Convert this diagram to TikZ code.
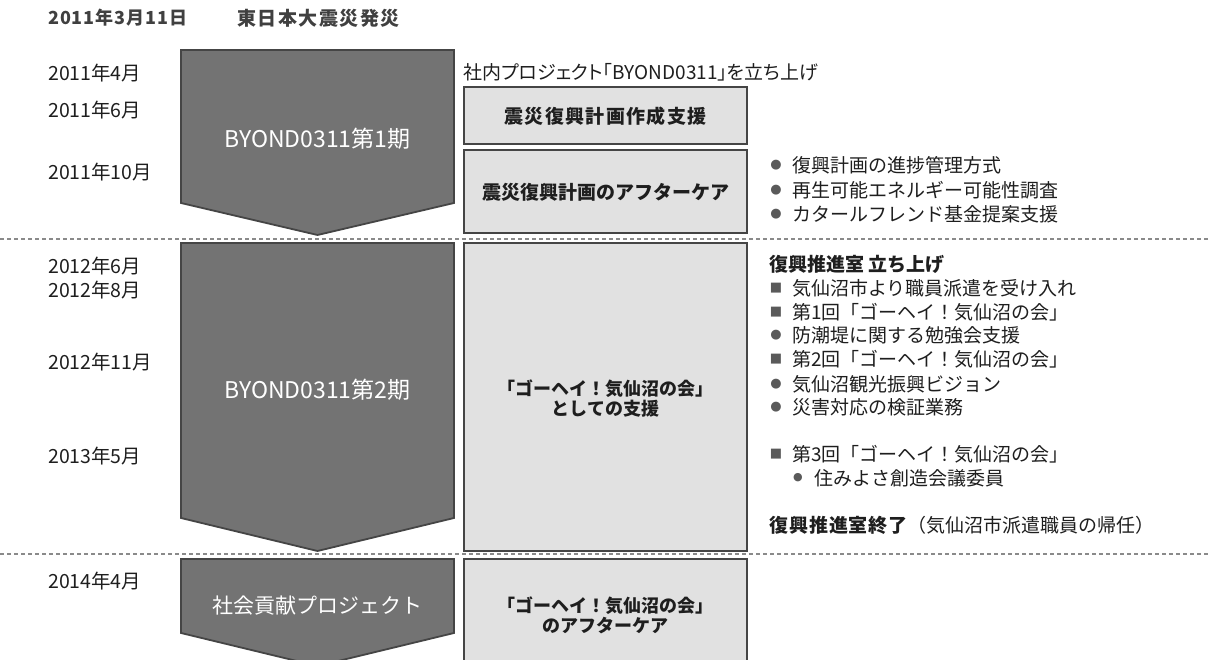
\documentclass[tikz,border=0pt]{standalone}
\usepackage{fontspec}
\setmainfont{Noto Sans CJK JP}
\newfontfamily\symfont{DejaVu Sans}
\definecolor{arrowfill}{HTML}{737373}
\definecolor{edgegray}{HTML}{454545}
\definecolor{boxfill}{HTML}{E1E1E1}
\definecolor{dashgray}{HTML}{8A8A8A}
\definecolor{txt}{HTML}{1E1E1E}
\definecolor{headtxt}{HTML}{404040}
\definecolor{markgray}{HTML}{5A5A5A}
\newcommand{\fs}[1]{\fontsize{#1}{#1}\selectfont}
\newcommand{\spaced}[1]{\addfontfeature{LetterSpace=#1}}
\newcommand{\prop}{\addfontfeature{RawFeature=+palt}}
\tikzset{
  phasearrow/.style={fill=arrowfill,draw=edgegray,line width=1.8pt,line join=miter},
  phasebox/.style={draw=edgegray,fill=boxfill,line width=1.8pt,minimum width=283pt,inner sep=0pt},
  sep/.style={draw=dashgray,line width=1.2pt,dash pattern=on 4pt off 3pt},
  datetxt/.style={anchor=west,inner sep=0pt,text=txt,font=\fs{19.5}},
  listtxt/.style={anchor=west,inner sep=0pt,text=txt,font=\fs{19}},
  marker/.style={inner sep=0pt,text=markgray,font=\symfont\fs{13}},
  arrowlabel/.style={inner sep=0pt,text=white,font=\fs{23}},
  boxlabel/.style={inner sep=0pt,text=txt,font=\bfseries\fs{19},align=center},
  headtext/.style={anchor=west,inner sep=0pt,text=headtxt,font=\bfseries\fs{18}\spaced{5}}
}
\begin{document}
\begin{tikzpicture}[x=1pt,y=-1pt]
\useasboundingbox (0,0) rectangle (1211,660);
\begin{scope}
\clip (0,0) rectangle (1211,660);
% header
\node[headtext] (h1) at (48,18) {2011年3月11日};
\node[headtext,font=\bfseries\fs{19}\spaced{8}] (h2) at (237,18) {東日本大震災発災};

% separators
\coordinate (s1a) at (0,239); \coordinate (s1b) at (1211,239);
\coordinate (s2a) at (0,554); \coordinate (s2b) at (1211,554);
\draw[sep] (s1a) -- (s1b);
\draw[sep] (s2a) -- (s2b);

% phase arrows
\draw[phasearrow] (181,50) -- (454,50) -- (454,203) -- (317.5,235) -- (181,203) -- cycle;
\draw[phasearrow] (181,243) -- (454,243) -- (454,518) -- (317.5,551) -- (181,518) -- cycle;
\draw[phasearrow] (181,559) -- (454,559) -- (454,633) -- (317.5,666) -- (181,633) -- cycle;
\node[arrowlabel] (a1) at (317.5,139) {BYOND0311第1期};
\node[arrowlabel] (a2) at (317.5,390) {BYOND0311第2期};
\node[arrowlabel,font=\fs{21}] (a3) at (317.5,606) {社会貢献プロジェクト};

% boxes
\node[phasebox,minimum height=57pt] (b1) at (605.5,115.5) {};
\node[boxlabel,font=\bfseries\fs{19}\spaced{7}] (b1t) at (605.5,116) {震災復興計画作成支援};
\node[phasebox,minimum height=83pt] (b2) at (605.5,191.5) {};
\node[boxlabel] (b2t) at (605.5,192) {震災復興計画のアフターケア};
\node[phasebox,minimum height=308pt] (b3) at (605.5,397) {};
\node[boxlabel,font=\bfseries\fs{18}] (b3t) at (605.5,398) {「ゴーヘイ！気仙沼の会」\\[2pt]としての支援};
\node[phasebox,minimum height=115pt] (b4) at (605.5,616.5) {};
\node[boxlabel,font=\bfseries\fs{18}] (b4t) at (605.5,615) {「ゴーヘイ！気仙沼の会」\\[2pt]のアフターケア};

% dates
\node[datetxt] (d1) at (48,73) {2011年4月};
\node[datetxt] (d2) at (48,110) {2011年6月};
\node[datetxt] (d3) at (48,172) {2011年10月};
\node[datetxt] (d4) at (48,266) {2012年6月};
\node[datetxt] (d5) at (48,290) {2012年8月};
\node[datetxt] (d6) at (48,362) {2012年11月};
\node[datetxt] (d7) at (48,456) {2013年5月};
\node[datetxt] (d8) at (48,581) {2014年4月};

% phase 1 texts
\node[listtxt,font=\fs{19}\prop] (p0) at (463,72) {社内プロジェクト「BYOND0311」を立ち上げ};
\node[marker] (m1) at (776,165) {●};
\node[listtxt] (t1) at (792,165) {復興計画の進捗管理方式};
\node[marker] (m2) at (776,190) {●};
\node[listtxt] (t2) at (792,190) {再生可能エネルギー可能性調査};
\node[marker] (m3) at (776,214) {●};
\node[listtxt] (t3) at (792,214) {カタールフレンド基金提案支援};

% phase 2 texts
\node[listtxt,font=\bfseries\fs{19}] (q0) at (769,264) {復興推進室 立ち上げ};
\node[marker] (n1) at (776,288) {■};
\node[listtxt] (q1) at (792,288) {気仙沼市より職員派遣を受け入れ};
\node[marker] (n2) at (776,312) {■};
\node[listtxt] (q2) at (792,312) {第1回「ゴーヘイ！気仙沼の会」};
\node[marker] (n3) at (776,335) {●};
\node[listtxt] (q3) at (792,335) {防潮堤に関する勉強会支援};
\node[marker] (n4) at (776,359) {■};
\node[listtxt] (q4) at (792,359) {第2回「ゴーヘイ！気仙沼の会」};
\node[marker] (n5) at (776,384) {●};
\node[listtxt] (q5) at (792,384) {気仙沼観光振興ビジョン};
\node[marker] (n6) at (776,407) {●};
\node[listtxt] (q6) at (792,407) {災害対応の検証業務};
\node[marker] (n7) at (776,454) {■};
\node[listtxt] (q7) at (792,454) {第3回「ゴーヘイ！気仙沼の会」};
\node[marker,font=\symfont\fs{11}] (n8) at (798,478) {●};
\node[listtxt] (q8) at (814,478) {住みよさ創造会議委員};
\node[listtxt] (q9) at (769,525) {{\bfseries\spaced{5}復興推進室終了}（気仙沼市派遣職員の帰任）};
\end{scope}
\end{tikzpicture}
\end{document}
